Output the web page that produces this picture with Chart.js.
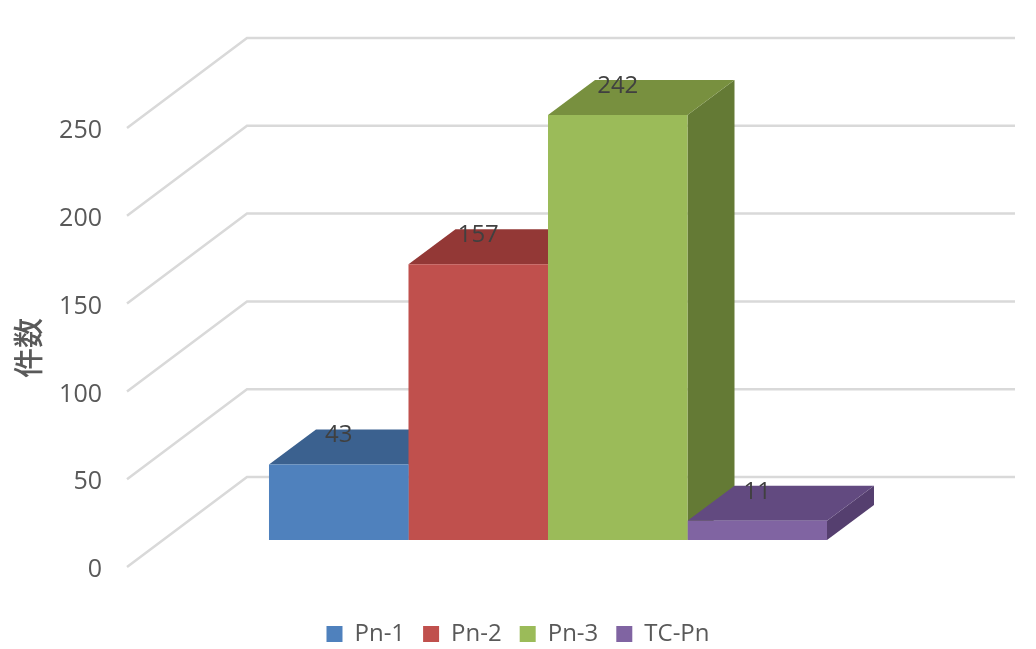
<!DOCTYPE html>
<html>
<head>
<meta charset="utf-8">
<style>
  html, body { margin: 0; padding: 0; background: #fff; }
  canvas { display: block; }
</style>
<script src="https://cdn.jsdelivr.net/npm/chart.js@4/dist/chart.umd.min.js"></script>
</head>
<body>
<canvas id="myChart" width="1036" height="649"></canvas>
<script>
const categories = ["件数"];
const seriesNames = ["Pn-1", "Pn-2", "Pn-3", "TC-Pn"];
const seriesValues = [43, 157, 242, 11];
const frontColors = ["#4F81BD", "#C0504D", "#9BBB59", "#8064A2"];
const topColors = ["#3B618F", "#933836", "#78903F", "#624A80"];
const sideColors = ["#325379", "#7F302E", "#647A35", "#553F6F"];
const axisTitle = "件数";

// 3d look, offsets in px
const barDepth = { x: 47, y: 35 };
const wallBack = { x: 83, y: 63 };
const wallFront = { x: 37, y: 27 };

const font = "'Open Sans', sans-serif";
Chart.defaults.font.family = font;

const fake3d = {
  id: "fake3d",
  beforeDatasetsDraw(chart) {
    const ctx = chart.ctx;
    const yScale = chart.scales.y;
    const area = chart.chartArea;

    // walls
    ctx.save();
    ctx.strokeStyle = "#D9D9D9";
    ctx.lineWidth = 2.5;
    yScale.ticks.forEach(function (t) {
      const py = yScale.getPixelForValue(t.value);
      ctx.beginPath();
      ctx.moveTo(area.left - wallFront.x, py + wallFront.y);
      ctx.lineTo(area.left + wallBack.x, py - wallBack.y);
      ctx.lineTo(area.right + wallBack.x, py - wallBack.y);
      ctx.stroke();
    });

    // top and side of each bar
    chart.data.datasets.forEach(function (ds, i) {
      const bar = chart.getDatasetMeta(i).data[0];
      const left = bar.x - bar.width / 2;
      const right = bar.x + bar.width / 2;

      ctx.fillStyle = sideColors[i];
      ctx.beginPath();
      ctx.moveTo(right, bar.y);
      ctx.lineTo(right + barDepth.x, bar.y - barDepth.y);
      ctx.lineTo(right + barDepth.x, bar.base - barDepth.y);
      ctx.lineTo(right, bar.base);
      ctx.closePath();
      ctx.fill();

      ctx.fillStyle = topColors[i];
      ctx.beginPath();
      ctx.moveTo(left, bar.y);
      ctx.lineTo(left + barDepth.x, bar.y - barDepth.y);
      ctx.lineTo(right + barDepth.x, bar.y - barDepth.y);
      ctx.lineTo(right, bar.y);
      ctx.closePath();
      ctx.fill();
    });
    ctx.restore();
  },
  afterDatasetsDraw(chart) {
    const ctx = chart.ctx;
    ctx.save();

    // value labels
    ctx.font = "24px " + font;
    ctx.fillStyle = "#404040";
    ctx.textAlign = "center";
    ctx.textBaseline = "middle";
    chart.data.datasets.forEach(function (ds, i) {
      const bar = chart.getDatasetMeta(i).data[0];
      ctx.fillText(ds.data[0], bar.x, bar.y - 29);
    });

    // axis title
    ctx.translate(28, 348);
    ctx.rotate(-Math.PI / 2);
    ctx.font = "500 30px 'Noto Sans CJK JP'";
    ctx.fillStyle = "#595959";
    ctx.fillText(axisTitle, 0, 0);
    ctx.restore();
  },
};

new Chart("myChart", {
  type: "bar",
  data: {
    labels: categories,
    datasets: seriesNames.map(function (name, i) {
      return {
        label: name,
        data: [seriesValues[i]],
        backgroundColor: frontColors[i],
        borderWidth: 0,
        categoryPercentage: 0.7266,
        barPercentage: 1,
      };
    }),
  },
  options: {
    responsive: false,
    animation: false,
    layout: { padding: { top: 101, bottom: -7 } },
    plugins: {
      tooltip: { enabled: false },
      legend: {
        position: "bottom",
        labels: {
          boxWidth: 16,
          boxHeight: 16,
          padding: 18,
          color: "#595959",
          font: { size: 24 },
        },
      },
    },
    scales: {
      x: {
        grid: { display: false },
        border: { display: false },
        ticks: { display: false },
        afterFit(s) { s.height = 64; },
      },
      y: {
        min: 0,
        max: 250,
        grid: { display: false, drawTicks: false },
        border: { display: false },
        ticks: {
          stepSize: 50,
          padding: 62,
          labelOffset: 30,
          color: "#595959",
          font: { size: 25 },
        },
        afterFit(s) { s.width = 164; },
      },
      // empty axis, only keeps room on the right for the back wall
      rightGap: {
        position: "right",
        grid: { display: false },
        border: { display: false },
        ticks: { display: false },
        afterFit(s) { s.width = 104; },
      },
    },
  },
  plugins: [fake3d],
});
</script>
</body>
</html>
